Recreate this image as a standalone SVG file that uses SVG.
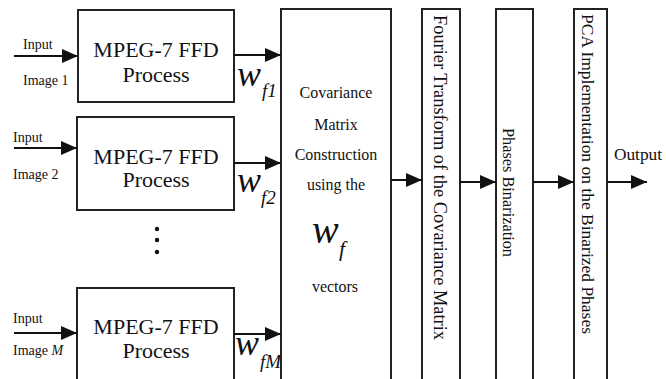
<svg xmlns="http://www.w3.org/2000/svg" width="666" height="379" viewBox="0 0 666 379" font-family="'Liberation Serif', serif">
<style>
.box{fill:#fff;stroke:#222;stroke-width:2}
text{font-family:'Liberation Serif',serif;fill:#111}
.lbl{font-size:14px}
.proc{font-size:22px;text-anchor:middle}
.cov{font-size:16px;text-anchor:middle}
.w{font-style:italic}
.con{stroke:#111;stroke-width:2;fill:none;marker-end:url(#ah)}
</style>
<defs>
<marker id="ah" markerWidth="16" markerHeight="14" refX="16" refY="7" orient="auto" markerUnits="userSpaceOnUse">
<path d="M0,0 L16,7 L0,14 Z" fill="#111"/>
</marker>
</defs>
<rect width="666" height="379" fill="#fff"/>

<g id="proc1">
<rect class="box" x="78" y="10" width="156" height="92"/>
<text class="proc" x="156" y="57">MPEG-7 FFD</text>
<text class="proc" x="156" y="82">Process</text>
</g>
<g id="proc2">
<rect class="box" x="77" y="117" width="157" height="93"/>
<text class="proc" x="156" y="164">MPEG-7 FFD</text>
<text class="proc" x="156" y="187">Process</text>
</g>
<g id="proc3">
<rect class="box" x="77" y="288" width="157" height="100"/>
<text class="proc" x="156" y="334">MPEG-7 FFD</text>
<text class="proc" x="156" y="358">Process</text>
</g>
<g id="dots" fill="#111">
<circle cx="157" cy="229" r="2.2"/>
<circle cx="157" cy="240" r="2.2"/>
<circle cx="157" cy="252" r="2.2"/>
</g>

<g id="inputs">
<text class="lbl" x="23" y="49">Input</text>
<text class="lbl" x="23" y="85">Image 1</text>
<text class="lbl" x="13" y="142">Input</text>
<text class="lbl" x="13" y="179">Image 2</text>
<text class="lbl" x="13" y="323">Input</text>
<text class="lbl" x="13" y="355">Image <tspan font-style="italic">M</tspan></text>
</g>

<g id="wlabels">
<text class="w" x="237" y="86" font-size="36">w</text><text class="w" x="262" y="97" font-size="19">f1</text>
<text class="w" x="237" y="192" font-size="36">w</text><text class="w" x="261" y="204" font-size="19">f2</text>
<text class="w" x="235" y="355" font-size="36">w</text><text class="w" x="260" y="368" font-size="19">fM</text>
</g>

<g id="covariance">
<rect class="box" x="281" y="9" width="110" height="380"/>
<text class="cov" x="336" y="98">Covariance</text>
<text class="cov" x="336" y="130">Matrix</text>
<text class="cov" x="336" y="160">Construction</text>
<text class="cov" x="336" y="190">using the</text>
<text class="w" x="312" y="243" font-size="40">w</text>
<text class="w" x="339" y="256" font-size="22">f</text>
<text class="cov" x="335" y="292">vectors</text>
</g>

<g id="fourier">
<rect class="box" x="422" y="9" width="38" height="380"/>
<text font-size="18" transform="translate(434,15) rotate(90)" textLength="325" lengthAdjust="spacingAndGlyphs">Fourier Transform of the Covariance Matrix</text>
</g>
<g id="binarization">
<rect class="box" x="496" y="9" width="37" height="380"/>
<text font-size="16.5" transform="translate(503,128) rotate(90)" textLength="129" lengthAdjust="spacingAndGlyphs">Phases Binarization</text>
</g>
<g id="pca">
<rect class="box" x="574" y="9" width="33" height="380"/>
<text font-size="17" transform="translate(582,14) rotate(90)" textLength="320" lengthAdjust="spacingAndGlyphs">PCA Implementation on the Binarized Phases</text>
</g>
<text font-size="17" x="614" y="160" textLength="48" lengthAdjust="spacingAndGlyphs">Output</text>

<g id="connectors">
<line class="con" x1="14" y1="56" x2="78" y2="56"/>
<line class="con" x1="14" y1="148" x2="77" y2="148"/>
<line class="con" x1="14" y1="333" x2="77" y2="333"/>
<line class="con" x1="234" y1="55" x2="281" y2="55"/>
<line class="con" x1="234" y1="163" x2="281" y2="163"/>
<line class="con" x1="234" y1="334" x2="281" y2="334"/>
<line class="con" x1="391" y1="180" x2="422" y2="180"/>
<line class="con" x1="460" y1="182" x2="496" y2="182"/>
<line class="con" x1="533" y1="182" x2="574" y2="182"/>
<line class="con" x1="607" y1="182" x2="647" y2="182"/>
</g>
</svg>
